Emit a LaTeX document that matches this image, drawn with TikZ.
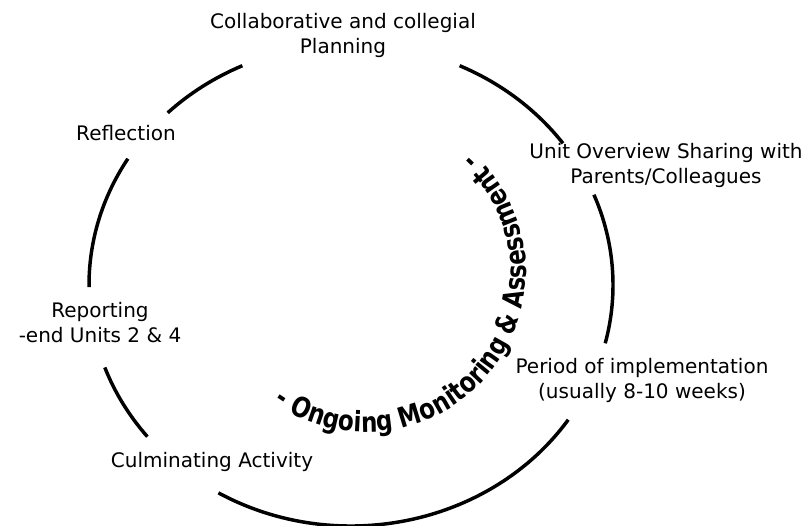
\documentclass[tikz,border=0pt]{standalone}
\usepackage{fontspec}
\setmainfont{DejaVu Sans}
\newfontfamily\ringfont{DejaVu Sans}[FakeStretch=0.82]
\usetikzlibrary{decorations.text}

\tikzset{every picture/.style={line width=0.75pt}}
\tikzset{
  cyclearc/.style={line width=2.6pt},
  stage/.style={align=center, inner sep=0pt, font=\fontsize{15}{18.75}\selectfont}
}

\begin{document}
\begin{tikzpicture}[x=0.75pt,y=0.75pt,yscale=-1,xscale=1]
\useasboundingbox (0,0) rectangle (812,525);

%Arcs of the cycle, centre (351,285), gaps left for the stages
\draw [cyclearc] (351,285) ++(225.6:262 and 241) arc[start angle=225.6, end angle=245.5, x radius=262, y radius=241];
\draw [cyclearc] (351,285) ++(294.5:262 and 241) arc[start angle=294.5, end angle=324, x radius=262, y radius=241];
\draw [cyclearc] (351,285) ++(-22:262 and 241) arc[start angle=-22, end angle=14, x radius=262, y radius=241];
\draw [cyclearc] (351,285) ++(34:262 and 241) arc[start angle=34, end angle=120.4, x radius=262, y radius=241];
\draw [cyclearc] (351,285) ++(141:262 and 241) arc[start angle=141, end angle=160, x radius=262, y radius=241];
\draw [cyclearc] (351,285) ++(179.5:262 and 241) arc[start angle=179.5, end angle=211.6, x radius=262, y radius=241];

%Curved text inside the cycle
\path [decorate, decoration={text along path, text align=center,
  text={|\ringfont\bfseries\fontsize{21}{21}\selectfont|- Ongoing Monitoring {\&} Assessment -}}]
  (366,272) ++(127:160) arc[start angle=127, end angle=-50, radius=160];

% Text Node
\node [stage] (planning) at (343,35) {Collaborative and collegial\\Planning};
% Text Node
\node [stage] (sharing) at (666,165) {Unit Overview Sharing with\\Parents/Colleagues};
% Text Node
\node [stage] (implementation) at (642,380) {Period of implementation\\(usually 8-10 weeks)};
% Text Node
\node [stage] (culminating) at (212,462) {Culminating Activity};
% Text Node
\node [stage] (reporting) at (100,323) {Reporting\\-end Units 2 \& 4};
% Text Node
\node [stage] (reflection) at (126,133) {Reflection};

\end{tikzpicture}
\end{document}
